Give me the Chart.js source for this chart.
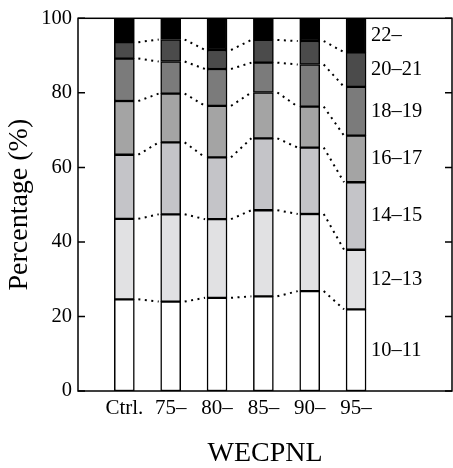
<!DOCTYPE html>
<html>
<head>
<meta charset="utf-8">
<script src="https://cdn.jsdelivr.net/npm/chart.js@4"></script>
<style>
  html, body { margin: 0; padding: 0; background: #fff; }
  #wrap { width: 453px; height: 468px; }
</style>
</head>
<body>
<div id="wrap"><canvas id="chart" width="453" height="468"></canvas></div>
<script>
// 100% stacked bars of age groups per WECPNL class
const categories = ["Ctrl.", "75\u2013", "80\u2013", "85\u2013", "90\u2013", "95\u2013"];
const seriesLabels = ["10\u201311", "12\u201313", "14\u201315", "16\u201317", "18\u201319", "20\u201321", "22\u2013"];

// percentages, one array per age group (bottom to top)
const s10_11 = [24.6, 24.0, 25.0, 25.4, 26.8, 21.9];
const s12_13 = [21.6, 23.4, 21.1, 23.1, 20.7, 16.0];
const s14_15 = [17.2, 19.3, 16.6, 19.3, 17.8, 18.1];
const s16_17 = [14.4, 13.1, 13.8, 12.3, 11.0, 12.5];
const s18_19 = [11.4, 8.6, 9.9, 8.0, 11.3, 13.1];
const s20_21 = [4.4, 5.9, 5.1, 6.1, 6.3, 9.3];
const s22 = [6.4, 5.7, 8.5, 5.8, 6.1, 9.1];

const yTicks = [0, 20, 40, 60, 80, 100];

const series = [s10_11, s12_13, s14_15, s16_17, s18_19, s20_21, s22];
const fills = ["#ffffff", "#e1e1e3", "#c4c4c8", "#a4a4a4", "#7b7b7b", "#4b4b4b", "#000000"];

const serif = "'Liberation Serif', 'DejaVu Serif', serif";

const datasets = series.map((vals, k) => ({
  label: seriesLabels[k],
  data: vals.map((v, i) => ({ x: i + 1, y: v })),
  backgroundColor: fills[k],
  borderColor: "#000",
  borderWidth: 1.5,
  borderSkipped: false,
  barThickness: 20
}));

// frame with inward ticks on left and right
const framePlugin = {
  id: "frame",
  afterDraw(chart){
    const {ctx, chartArea: a, scales} = chart;
    ctx.save();
    ctx.strokeStyle = "#000";
    ctx.lineWidth = 1.5;
    ctx.strokeRect(a.left, a.top, a.right - a.left, a.bottom - a.top);
    ctx.beginPath();
    yTicks.forEach(v => {
      const y = scales.y.getPixelForValue(v);
      ctx.moveTo(a.left, y); ctx.lineTo(a.left + 7, y);
      ctx.moveTo(a.right, y); ctx.lineTo(a.right - 7, y);
    });
    ctx.stroke();
    ctx.restore();
  }
};

// dotted connectors between segment boundaries + labels at right
const connectPlugin = {
  id: "connect",
  afterDatasetsDraw(chart){
    const {ctx} = chart;
    const n = categories.length;
    ctx.save();
    ctx.strokeStyle = "#000";
    ctx.lineWidth = 2;
    ctx.setLineDash([2, 4.5]);
    for(let k = 0; k < series.length - 1; k++){
      const meta = chart.getDatasetMeta(k);
      for(let i = 0; i < n - 1; i++){
        const b1 = meta.data[i], b2 = meta.data[i + 1];
        ctx.beginPath();
        ctx.moveTo(b1.x + b1.width / 2 + 4, b1.y);
        ctx.lineTo(b2.x - b2.width / 2 - 2, b2.y);
        ctx.stroke();
      }
    }
    ctx.setLineDash([]);
    ctx.fillStyle = "#000";
    ctx.font = "20.5px " + serif;
    ctx.textBaseline = "middle";
    ctx.textAlign = "left";
    series.forEach((s, k) => {
      const el = chart.getDatasetMeta(k).data[n - 1];
      ctx.fillText(seriesLabels[k], el.x + el.width / 2 + 5, (el.y + el.base) / 2);
    });
    ctx.restore();
  }
};

new Chart(document.getElementById("chart"), {
  type: "bar",
  data: { datasets },
  options: {
    responsive: false,
    animation: false,
    layout: { padding: { top: 15, right: 1, left: 0, bottom: 0 } },
    scales: {
      x: {
        type: "linear",
        stacked: true,
        offset: false,
        min: 0,
        max: 8.07,
        afterBuildTicks: (s) => { s.ticks = categories.map((c, i) => ({ value: i + 1 })); },
        afterFit: (s) => { s.height = 77; },
        grid: { display: false, drawTicks: false },
        border: { display: false },
        ticks: {
          autoSkip: false,
          maxRotation: 0,
          padding: 5,
          color: "#000",
          font: { family: serif, size: 21 },
          callback: (v) => categories[v - 1] ?? ""
        },
        title: {
          display: true,
          text: "WECPNL",
          color: "#000",
          font: { family: serif, size: 28, lineHeight: 1 },
          padding: 0
        }
      },
      y: {
        stacked: true,
        min: 0,
        max: 100,
        afterFit: (s) => { s.width = 78; },
        grid: { display: false, drawTicks: false },
        border: { display: false },
        ticks: {
          stepSize: 20,
          padding: 6,
          color: "#000",
          font: { family: serif, size: 20.5 }
        },
        title: {
          display: true,
          text: "Percentage (%)",
          color: "#000",
          font: { family: serif, size: 28, lineHeight: 1 },
          padding: { top: 6, bottom: 0 }
        }
      }
    },
    plugins: {
      legend: { display: false },
      tooltip: { enabled: false }
    }
  },
  plugins: [connectPlugin, framePlugin]
});
</script>
</body>
</html>
